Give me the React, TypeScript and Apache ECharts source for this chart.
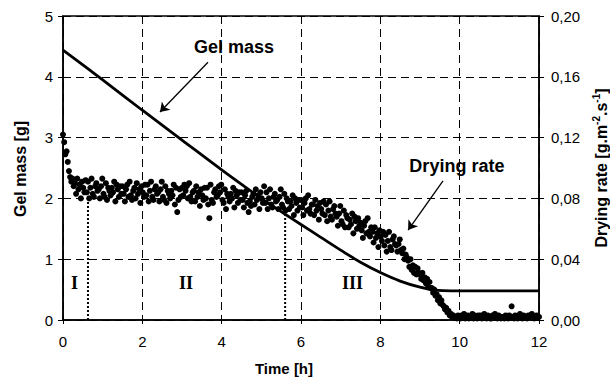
import React, { useEffect, useRef } from 'react';
import * as echarts from 'echarts';

// Gel mass curve (left axis, g)
const massTime = [0, 1, 2, 3, 4, 5, 5.6, 6, 6.5, 7, 7.5, 8, 8.5, 9, 9.4, 9.8, 12];
const massValue = [4.44, 3.95, 3.45, 2.96, 2.47, 2.0, 1.74, 1.57, 1.36, 1.15, 0.95, 0.78, 0.64, 0.54, 0.49, 0.48, 0.48];

// Drying rate measurements (right axis, g.m-2.s-1), one every RATE_STEP hours from t = 0
const RATE_STEP = 0.03;
const rateValues = [
  0.122, 0.117, 0.109, 0.111, 0.104, 0.098, 0.094, 0.091, 0.093, 0.088,
  0.090, 0.083, 0.093, 0.086, 0.089, 0.080, 0.091, 0.087, 0.084, 0.092,
  0.084, 0.091, 0.080, 0.087, 0.093, 0.083, 0.081, 0.088, 0.090, 0.085,
  0.086, 0.080, 0.088, 0.093, 0.083, 0.081, 0.090, 0.079, 0.087, 0.085,
  0.082, 0.087, 0.084, 0.091, 0.078, 0.089, 0.086, 0.081, 0.088, 0.083,
  0.088, 0.083, 0.078, 0.086, 0.089, 0.081, 0.091, 0.082, 0.079, 0.085,
  0.087, 0.080, 0.090, 0.083, 0.086, 0.077, 0.088, 0.084, 0.081, 0.089,
  0.082, 0.089, 0.078, 0.085, 0.091, 0.081, 0.079, 0.086, 0.088, 0.083,
  0.084, 0.078, 0.086, 0.091, 0.081, 0.079, 0.088, 0.077, 0.085, 0.083,
  0.080, 0.085, 0.082, 0.089, 0.076, 0.087, 0.071, 0.079, 0.086, 0.081,
  0.087, 0.082, 0.089, 0.085, 0.088, 0.080, 0.090, 0.081, 0.078, 0.084,
  0.085, 0.078, 0.088, 0.081, 0.084, 0.075, 0.086, 0.082, 0.079, 0.087,
  0.080, 0.087, 0.076, 0.067, 0.089, 0.079, 0.077, 0.084, 0.086, 0.081,
  0.082, 0.088, 0.084, 0.089, 0.079, 0.077, 0.086, 0.073, 0.083, 0.081,
  0.078, 0.083, 0.080, 0.087, 0.074, 0.085, 0.082, 0.077, 0.084, 0.079,
  0.084, 0.079, 0.074, 0.082, 0.085, 0.077, 0.071, 0.078, 0.075, 0.081,
  0.083, 0.076, 0.086, 0.079, 0.082, 0.073, 0.084, 0.080, 0.077, 0.088,
  0.077, 0.084, 0.073, 0.080, 0.086, 0.076, 0.074, 0.081, 0.083, 0.078,
  0.079, 0.073, 0.081, 0.086, 0.076, 0.074, 0.083, 0.072, 0.080, 0.078,
  0.073, 0.078, 0.075, 0.082, 0.069, 0.080, 0.077, 0.072, 0.079, 0.074,
  0.079, 0.074, 0.069, 0.077, 0.080, 0.072, 0.082, 0.073, 0.070, 0.076,
  0.076, 0.069, 0.079, 0.072, 0.075, 0.066, 0.077, 0.073, 0.070, 0.078,
  0.069, 0.076, 0.065, 0.072, 0.078, 0.068, 0.066, 0.073, 0.075, 0.070,
  0.068, 0.062, 0.070, 0.075, 0.065, 0.063, 0.072, 0.061, 0.069, 0.067,
  0.061, 0.066, 0.063, 0.070, 0.057, 0.068, 0.065, 0.060, 0.067, 0.062,
  0.064, 0.059, 0.054, 0.062, 0.065, 0.057, 0.067, 0.058, 0.055, 0.061,
  0.058, 0.051, 0.061, 0.054, 0.057, 0.048, 0.059, 0.055, 0.052, 0.058,
  0.049, 0.056, 0.045, 0.052, 0.058, 0.048, 0.046, 0.053, 0.055, 0.050,
  0.049, 0.045, 0.050, 0.053, 0.046, 0.044, 0.047, 0.040, 0.043, 0.041,
  0.039, 0.035, 0.040, 0.033, 0.036, 0.031, 0.035, 0.030, 0.034, 0.031,
  0.030, 0.027, 0.031, 0.026, 0.028, 0.024, 0.027, 0.022, 0.025, 0.021,
  0.021, 0.018, 0.020, 0.016, 0.017, 0.013, 0.015, 0.011, 0.013, 0.010,
  0.009, 0.007, 0.008, 0.005, 0.006, 0.003, 0.004, 0.002, 0.003, 0.002,
  0.002, 0.001, 0.003, 0.002, 0.001, 0.003, 0.002, 0.004, 0.001, 0.002,
  0.003, 0.001, 0.002, 0.002, 0.004, 0.001, 0.003, 0.002, 0.001, 0.003,
  0.002, 0.003, 0.001, 0.002, 0.004, 0.002, 0.001, 0.003, 0.002, 0.001,
  0.001, 0.003, 0.002, 0.004, 0.002, 0.001, 0.003, 0.002, 0.001, 0.002,
  0.002, 0.001, 0.003, 0.002, 0.001, 0.003, 0.002, 0.009, 0.002, 0.001,
  0.003, 0.002, 0.001, 0.002, 0.004, 0.002, 0.001, 0.003, 0.002, 0.002,
  0.001, 0.003, 0.002, 0.003, 0.004, 0.002, 0.001, 0.002, 0.003, 0.002,
  0.002,
];

// Phase boundaries (dotted verticals) and phase labels
const phaseBoundaryTime = [0.63, 5.6];
const phaseBoundaryTop = [1.97, 1.76];
const phaseLabels = ['I', 'II', 'III'];
const phaseLabelTime = [0.29, 3.1, 7.3];
const phaseLabelLevel = 0.61;

// Annotations (in data units of time / gel mass)
const annotationTexts = ['Gel mass', 'Drying rate'];
const annotationPos = [[4.31, 4.49], [9.93, 2.53]];
const arrowFrom = [[3.655, 4.24], [9.58, 2.29]];
const arrowTo = [[2.445, 3.42], [8.7, 1.48]];

// Axes
const xMin = 0, xMax = 12, xStep = 2;
const massMin = 0, massMax = 5, massStep = 1;
const rateMin = 0, rateMax = 0.2, rateStep = 0.04;

const FONT = '"Liberation Sans", Arial, sans-serif';

export default function App() {
  const ref = useRef<HTMLDivElement>(null);

  useEffect(() => {
    if (!ref.current) return;
    const chart = echarts.init(ref.current, undefined, { renderer: 'svg' });

    const massData = massTime.map((t, i) => [t, massValue[i]]);
    const rateData = rateValues.map((v, i) => [+(i * RATE_STEP).toFixed(3), v]);

    const boundarySeries = phaseBoundaryTime.map((t, i) => ({
      type: 'line',
      xAxisIndex: 0,
      yAxisIndex: 0,
      data: [[t, 0], [t, phaseBoundaryTop[i]]],
      symbol: 'none',
      silent: true,
      lineStyle: { color: '#000', width: 2, type: [2, 2], opacity: 1 },
      z: 3,
    }));

    const dashed = { color: '#000', width: 1, type: [8, 5] };

    const option: any = {
      animation: false,
      backgroundColor: '#fff',
      grid: {
        left: 63,
        right: 71,
        top: 16,
        bottom: 57,
        show: true,
        borderColor: '#000',
        borderWidth: 1.5,
        backgroundColor: 'transparent',
      },
      xAxis: {
        type: 'value',
        min: xMin,
        max: xMax,
        interval: xStep,
        axisLine: { show: true, lineStyle: { color: '#000', width: 1.5 } },
        axisTick: { show: true, inside: false, length: 4, lineStyle: { color: '#000', width: 1 } },
        axisLabel: { color: '#000', fontSize: 15, fontFamily: FONT, margin: 14 },
        splitLine: { show: true, lineStyle: dashed },
      },
      yAxis: [
        {
          type: 'value',
          min: massMin,
          max: massMax,
          interval: massStep,
          position: 'left',
          axisLine: { show: true, lineStyle: { color: '#000', width: 1.5 } },
          axisTick: { show: true, inside: false, length: 5, lineStyle: { color: '#000', width: 1 } },
          axisLabel: { color: '#000', fontSize: 15, fontFamily: FONT, margin: 10 },
          splitLine: { show: true, lineStyle: dashed },
        },
        {
          type: 'value',
          min: rateMin,
          max: rateMax,
          interval: rateStep,
          position: 'right',
          axisLine: { show: true, lineStyle: { color: '#000', width: 1.5 } },
          axisTick: { show: true, inside: false, length: 5, lineStyle: { color: '#000', width: 1 } },
          axisLabel: {
            color: '#000',
            fontSize: 15,
            fontFamily: FONT,
            margin: 12,
            formatter: (v: number) => v.toFixed(2).replace('.', ','),
          },
          splitLine: { show: false },
        },
      ],
      series: [
        ...boundarySeries,
        {
          type: 'scatter',
          name: 'Drying rate',
          xAxisIndex: 0,
          yAxisIndex: 1,
          data: rateData,
          symbol: 'circle',
          symbolSize: 6,
          silent: true,
          itemStyle: { color: '#000', opacity: 1 },
          z: 4,
        },
        {
          type: 'line',
          name: 'Gel mass',
          xAxisIndex: 0,
          yAxisIndex: 0,
          data: massData,
          smooth: 0.3,
          symbol: 'none',
          silent: true,
          lineStyle: { color: '#000', width: 2.8, opacity: 1 },
          z: 5,
        },
        {
          type: 'lines',
          coordinateSystem: 'cartesian2d',
          xAxisIndex: 0,
          yAxisIndex: 0,
          symbol: ['none', 'arrow'],
          symbolSize: 9,
          silent: true,
          lineStyle: { color: '#000', width: 1.3, opacity: 1 },
          data: arrowFrom.map((f, i) => ({ coords: [f, arrowTo[i]] })),
          z: 6,
        },
        {
          type: 'scatter',
          xAxisIndex: 0,
          yAxisIndex: 0,
          symbolSize: 0,
          silent: true,
          itemStyle: { opacity: 1, color: '#000' },
          data: annotationTexts.map((n, i) => ({ name: n, value: annotationPos[i] })),
          label: {
            show: true,
            position: 'inside',
            formatter: (p: any) => p.name,
            color: '#000',
            opacity: 1,
            fontSize: 18,
            fontWeight: 'bold',
            fontFamily: FONT,
          },
          z: 7,
        },
        {
          type: 'scatter',
          xAxisIndex: 0,
          yAxisIndex: 0,
          symbolSize: 0,
          silent: true,
          itemStyle: { opacity: 1, color: '#000' },
          data: phaseLabels.map((n, i) => ({ name: n, value: [phaseLabelTime[i], phaseLabelLevel] })),
          label: {
            show: true,
            position: 'inside',
            formatter: (p: any) => p.name,
            color: '#000',
            opacity: 1,
            fontSize: 18,
            fontWeight: 'bold',
            fontFamily: '"Liberation Serif", "Times New Roman", serif',
          },
          z: 7,
        },
      ],
      graphic: [
        {
          type: 'text',
          x: 20,
          y: 169,
          rotation: Math.PI / 2,
          silent: true,
          style: {
            text: 'Gel mass [g]',
            font: `bold 16px ${FONT}`,
            fill: '#000',
            align: 'center',
            verticalAlign: 'middle',
            textAlign: 'center',
            textVerticalAlign: 'middle',
          },
        },
        {
          type: 'text',
          x: 284,
          y: 368,
          silent: true,
          style: {
            text: 'Time [h]',
            font: `bold 15px ${FONT}`,
            fill: '#000',
            align: 'center',
            verticalAlign: 'middle',
            textAlign: 'center',
            textVerticalAlign: 'middle',
          },
        },
        {
          type: 'text',
          x: 601,
          y: 168,
          rotation: Math.PI / 2,
          silent: true,
          style: {
            text: '{a|Drying rate [g.m}{s|-2}{a|.s}{s|-1}{a|]}',
            align: 'center',
            verticalAlign: 'middle',
            textAlign: 'center',
            textVerticalAlign: 'middle',
            fill: '#000',
            rich: {
              a: { fontSize: 16, fontWeight: 'bold', fontFamily: FONT, fill: '#000', lineHeight: 20 },
              s: { fontSize: 10, fontWeight: 'bold', fontFamily: FONT, fill: '#000', verticalAlign: 'top' },
            },
          },
        },
      ],
    };

    chart.setOption(option);
    return () => chart.dispose();
  }, []);

  return (
    <div
      ref={ref}
      style={{ position: 'fixed', left: 0, top: 0, width: 610, height: 377, background: '#fff' }}
    />
  );
}
